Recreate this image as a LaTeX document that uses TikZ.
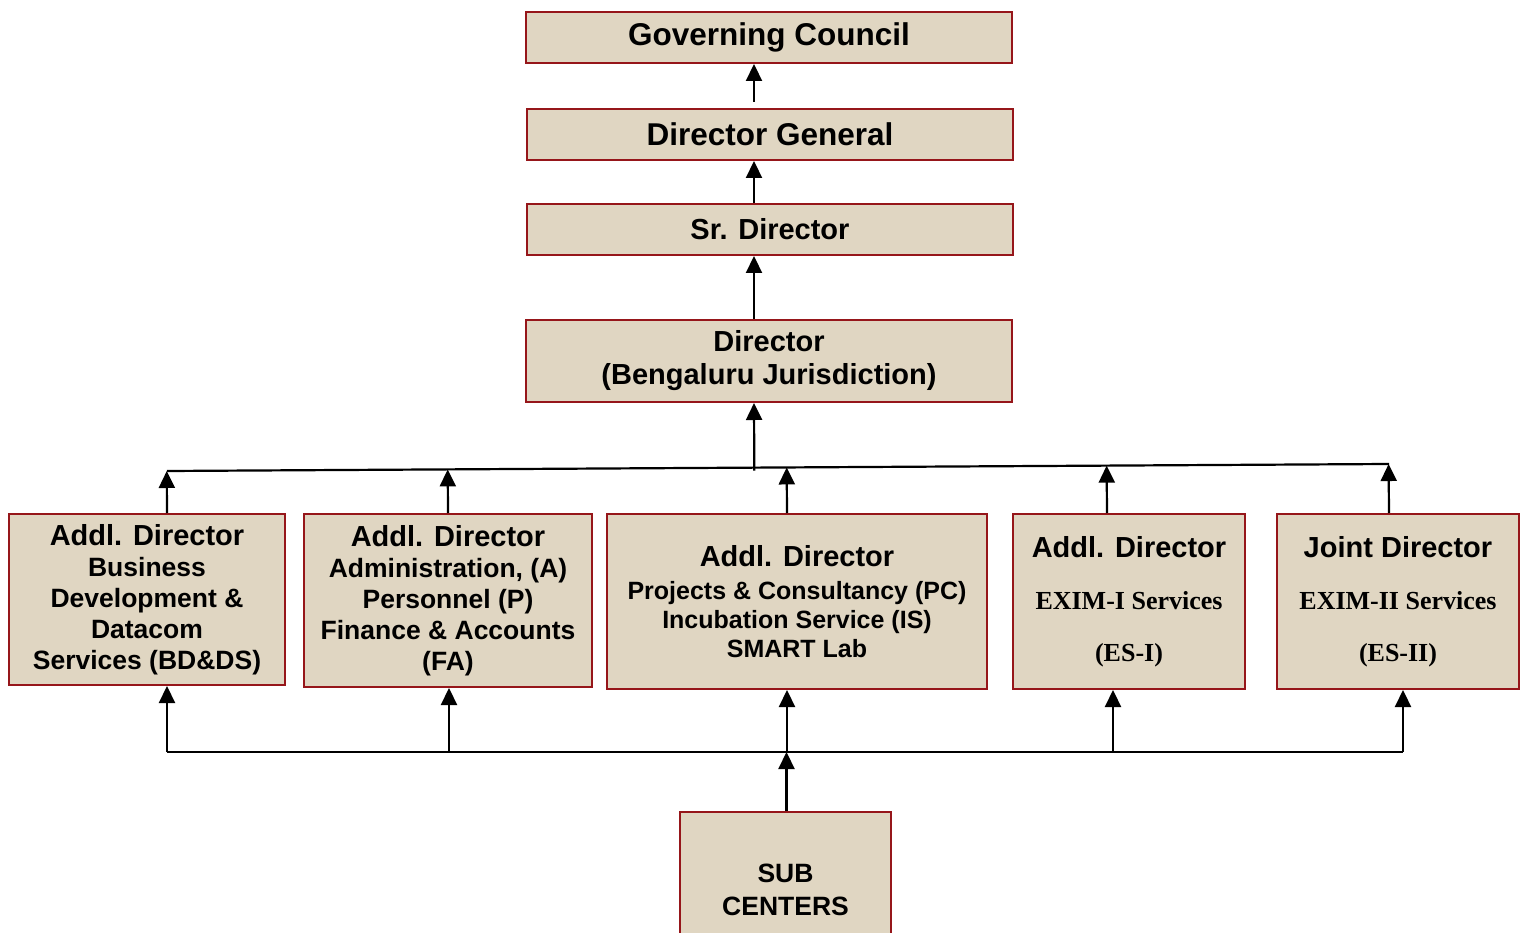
\documentclass[tikz,border=0pt]{standalone}
\usepackage{fontspec}
\setmainfont{Liberation Sans}
\newfontfamily\timesfont{Liberation Serif}
\usetikzlibrary{arrows.meta,calc}

\definecolor{boxfill}{RGB}{224,214,194}
\definecolor{boxline}{RGB}{150,22,26}

\tikzset{
  orgbox/.style={draw=boxline, line width=2pt, fill=boxfill, inner sep=0pt, align=center},
  uparrow/.style={-{Triangle[width=16pt,length=17pt]}, line width=2.2pt},
  busline/.style={line width=2.2pt}
}

\begin{document}
\begin{tikzpicture}[x=1pt,y=-1pt]
\useasboundingbox (0,0) rectangle (1527,933);

% Top chain
\node[orgbox, minimum width=486, minimum height=51, font=\bfseries\fontsize{31.5}{34}\selectfont] (gc) at (769,37.5) {Governing Council};
\node[orgbox, minimum width=486, minimum height=51, font=\bfseries\fontsize{31.5}{34}\selectfont] (dg) at (770,134.5) {Director General};
\node[orgbox, minimum width=486, minimum height=51, font=\bfseries\fontsize{29}{33}\selectfont] (sd) at (770,229.5) {Sr. Director};
\node[orgbox, minimum width=486, minimum height=82, font=\bfseries\fontsize{29}{33}\selectfont] (dir) at (769,361) {Director\\(Bengaluru Jurisdiction)};

% Directorates
\node[orgbox, minimum width=276, minimum height=171, font=\bfseries\fontsize{26.5}{31}\selectfont] (bdds) at (147,599.5)
  {{\fontsize{29}{31}\selectfont Addl. Director}\\Business\\Development \&\\Datacom\\Services (BD\&DS)};
\node[orgbox, minimum width=288, minimum height=173, font=\bfseries\fontsize{26.5}{31}\selectfont] (apfa) at (448,600.5)
  {{\fontsize{29}{31}\selectfont Addl. Director}\\Administration, (A)\\Personnel (P)\\Finance \& Accounts\\(FA)};
\node[orgbox, minimum width=380, minimum height=175, font=\bfseries\fontsize{25}{29}\selectfont] (pcis) at (797,601.5)
  {{\fontsize{29}{31}\selectfont Addl. Director}\\[4pt]Projects \& Consultancy (PC)\\Incubation Service (IS)\\SMART Lab};
\node[orgbox, minimum width=232, minimum height=175, font=\bfseries\fontsize{26}{29}\selectfont] (es1) at (1129,601.5)
  {{\fontsize{29}{31}\selectfont Addl. Director}\\[23pt]{\timesfont EXIM-I Services}\\[23pt]{\timesfont (ES-I)}};
\node[orgbox, minimum width=242, minimum height=175, font=\bfseries\fontsize{26}{29}\selectfont] (es2) at (1398,601.5)
  {{\fontsize{29}{31}\selectfont Joint Director}\\[23pt]{\timesfont EXIM-II Services}\\[23pt]{\timesfont (ES-II)}};

% Sub centers
\node[orgbox, minimum width=211, minimum height=155, font=\bfseries\fontsize{26.5}{33}\selectfont] (sc) at (785.5,889.5) {SUB\\CENTERS};

% Spine
\coordinate (spine) at (754,0);
\draw[uparrow] (dg.north -| spine) ++(0,-6) -- (gc.south -| spine);
\draw[uparrow] (sd.north -| spine) -- (dg.south -| spine);
\draw[uparrow] (dir.north -| spine) -- (sd.south -| spine);

% Upper bus
\coordinate (busL) at (167,471);
\coordinate (busR) at (1389,464);
\draw[busline] (busL) -- (busR);
\draw[uparrow] ($(busL)!(dir.south -| spine)!(busR)$) ++(0,3) -- (dir.south -| spine);
\foreach \b/\dx in {bdds/20,apfa/0,pcis/-10,es1/-22,es2/-9} {
  \path ([xshift=\dx]\b.north) coordinate (tmp);
  \draw[uparrow] (tmp) -- ($(busL)!(tmp)!(busR)$);
}

% Lower bus
\coordinate (lowL) at (167,752);
\coordinate (lowR) at (1403,752);
\draw[busline] (lowL) -- (lowR);
\foreach \b/\dx in {bdds/20,apfa/1,pcis/-10,es1/-16,es2/5} {
  \path ([xshift=\dx]\b.south) coordinate (tmp);
  \draw[uparrow] (tmp |- lowL) -- (tmp);
}
\draw[uparrow] ([xshift=1]sc.north) -- ([xshift=1]sc.north |- lowL);

\end{tikzpicture}
\end{document}
